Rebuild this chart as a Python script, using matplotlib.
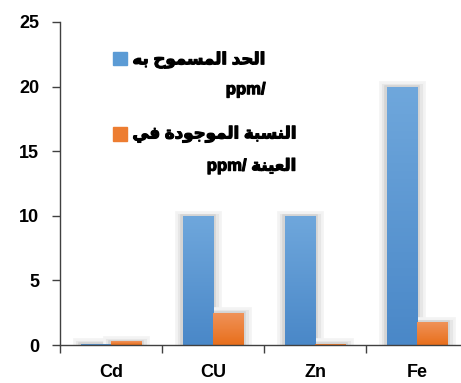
import numpy as np
import matplotlib
matplotlib.use("Agg")
import matplotlib.pyplot as plt
import matplotlib.patheffects as pe
import matplotlib.patches as mpatches
from matplotlib.legend_handler import HandlerPatch
from matplotlib.colors import LinearSegmentedColormap

elements = ["Cd", "CU", "Zn", "Fe"]
allowed = [0.1, 10, 10, 20]      # permitted limit ppm
measured = [0.3, 2.5, 0.1, 1.8]  # found in sample ppm

# arabic labels, pre-shaped (presentation forms, visual order)
label_allowed = ("\uFEEA\uFE91 \uFEA1\uFEEE\uFEE4\uFEB4\uFEE4\uFEDF\uFE8D "
                 "\uFEAA\uFEA4\uFEDF\uFE8D\nppm/")
label_measured = ("\uFEF2\uFED3 \uFE93\uFEA9\uFEEE\uFE9F\uFEEE\uFEE4\uFEDF\uFE8D "
                  "\uFE94\uFE92\uFEB4\uFEE8\uFEDF\uFE8D\n"
                  "ppm/ \uFE94\uFEE8\uFEF4\uFECC\uFEDF\uFE8D")
yticks = [0, 5, 10, 15, 20, 25]

plt.rcParams['font.family'] = ['Liberation Sans', 'DejaVu Sans']
plt.rcParams['font.weight'] = 'bold'

blue, orange = "#5b9bd5", "#ed7d31"
grad = {
    blue: LinearSegmentedColormap.from_list("b", ["#4a88c8", "#6fa7dc"]),
    orange: LinearSegmentedColormap.from_list("o", ["#e86f1c", "#f0935a"]),
}

fig = plt.figure(figsize=(4.61, 3.83), dpi=100)
ax = fig.add_axes([0.130, 0.0992, 0.870, 0.8434])

x = np.arange(len(elements))
w = 0.294
shadow = [pe.Stroke(linewidth=12, foreground="#f3f3f3", offset=(0, -2)),
          pe.Stroke(linewidth=8, foreground="#e6e6e6", offset=(0, -2)),
          pe.Stroke(linewidth=4, foreground="#d4d4d4", offset=(0, -1)),
          pe.Normal()]
b1 = ax.bar(x - w / 2, allowed, w, color=blue, zorder=2)
b2 = ax.bar(x + w / 2, measured, w, color=orange, zorder=2)

g = np.linspace(0, 1, 64).reshape(-1, 1)
for bars, col in [(b1, blue), (b2, orange)]:
    for r in bars:
        r.set_path_effects(shadow)
        x0, y0 = r.get_x(), r.get_y()
        im = ax.imshow(g, cmap=grad[col], origin="lower", aspect="auto",
                       extent=(x0, x0 + r.get_width(), y0, y0 + r.get_height()),
                       zorder=3)
        im.set_clip_path(r)

ax.set_xlim(-0.5, 3.43)
ax.set_ylim(0, 25)
ax.set_yticks(yticks)
ax.set_xticks(np.arange(len(elements) + 1)[:-1] - 0.5)
ax.set_xticklabels([])
ax.set_xticks(x, minor=True)
ax.set_xticklabels(elements, minor=True)

for s in ["top", "right"]:
    ax.spines[s].set_visible(False)
for s in ["left", "bottom"]:
    ax.spines[s].set_color("#404040")
    ax.spines[s].set_linewidth(1.0)
    ax.spines[s].set_zorder(5)

ax.tick_params(axis="y", length=6, width=1, color="#404040", pad=9,
               labelsize=13, labelcolor="black")
ax.tick_params(axis="x", which="major", length=6, width=1, color="#404040")
ax.tick_params(axis="x", which="minor", length=0, pad=14, labelsize=13)
for t in ax.get_yticklabels() + ax.get_xticklabels(minor=True):
    t.set_fontweight("bold")


# legend square sits on the first text line, not in the middle
def square_top(legend, orig_handle, xdescent, ydescent, width, height, fontsize):
    return mpatches.Rectangle((-xdescent, -ydescent + fontsize * 0.95),
                              width, height)


proxies = [mpatches.Patch(color=blue), mpatches.Patch(color=orange)]
leg = ax.legend(proxies, [label_allowed, label_measured],
                handler_map={mpatches.Patch: HandlerPatch(patch_func=square_top)},
                loc="upper left", bbox_to_anchor=(0.115, 0.93), frameon=False,
                fontsize=12, handlelength=0.88, handleheight=0.88,
                handletextpad=0.3, labelspacing=1.7, borderaxespad=0)
for t in leg.get_texts():
    t.set_multialignment("right")
    t.set_linespacing(2.15)
    t.set_fontweight("bold")
    t.set_path_effects([pe.withStroke(linewidth=0.8, foreground="black")])

fig.savefig("out.png", dpi=100)
